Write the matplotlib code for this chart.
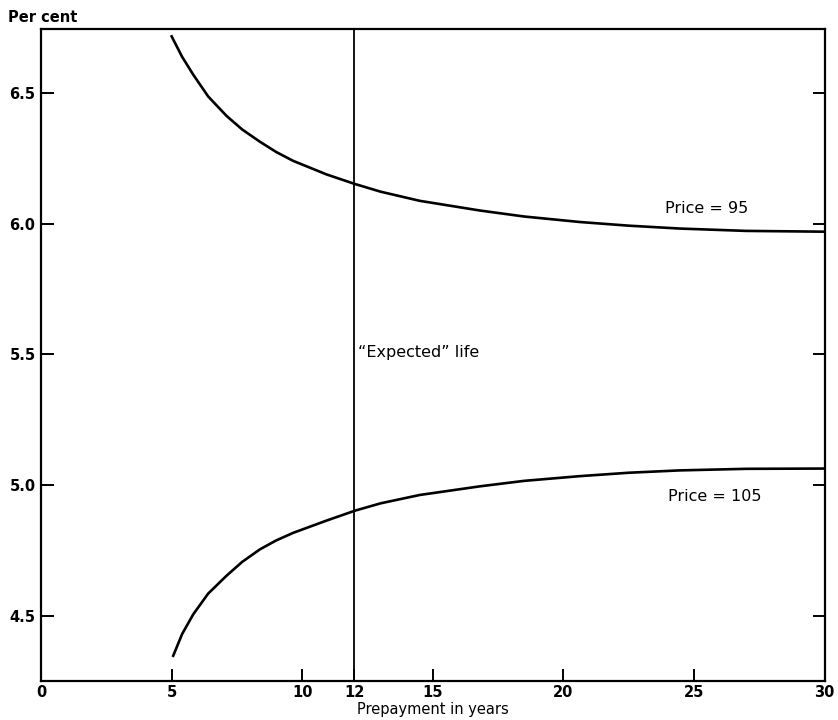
import matplotlib
matplotlib.use("Agg")
import matplotlib.pyplot as plt

# yield curves
years_95 = [5.0, 5.4, 5.83, 6.4, 7.1, 7.7, 8.38, 9.0, 9.65, 10.93, 12.0, 13.0, 14.5, 16.8, 18.5, 20.63, 22.5, 24.45, 27.0, 30.0]
yield_95 = [6.716, 6.638, 6.569, 6.486, 6.412, 6.36, 6.313, 6.274, 6.240, 6.188, 6.152, 6.122, 6.087, 6.050, 6.027, 6.006, 5.992, 5.981, 5.972, 5.969]

years_105 = [5.06, 5.4, 5.83, 6.4, 7.1, 7.7, 8.38, 9.0, 9.65, 10.93, 12.02, 13.0, 14.5, 16.8, 18.5, 20.63, 22.5, 24.45, 27.0, 30.0]
yield_105 = [4.347, 4.43, 4.506, 4.585, 4.653, 4.706, 4.754, 4.788, 4.817, 4.864, 4.902, 4.930, 4.962, 4.995, 5.016, 5.034, 5.047, 5.056, 5.062, 5.063]

expected_life = 12
xticks = [0, 5, 10, 12, 15, 20, 25, 30]
yticks = [4.5, 5.0, 5.5, 6.0, 6.5]
ytick_labels = ["4.5", "5.0", "5.5", "6.0", "6.5"]

plt.rcParams['font.family'] = ['DejaVu Sans']

fig = plt.figure(figsize=(8.38, 7.2), dpi=100)
ax = fig.add_axes([0.049, 0.054, 0.935, 0.906])

ax.plot(years_95, yield_95, color="black", lw=1.9, solid_joinstyle="round")
ax.plot(years_105, yield_105, color="black", lw=1.9, solid_joinstyle="round")
ax.axvline(expected_life, color="black", lw=1.3)

ax.set_xlim(0, 30)
ax.set_ylim(4.25, 6.745)

ax.set_xticks(xticks)
ax.set_xticklabels([str(t) for t in xticks])
ax.set_yticks(yticks)
ax.set_yticklabels(ytick_labels)
ax.tick_params(axis="both", direction="in", length=9, width=1.4, labelsize=10.5, pad=4)
ax.tick_params(axis="y", right=True)
ax.tick_params(axis="x", pad=3)
for lbl in ax.get_xticklabels() + ax.get_yticklabels():
  lbl.set_fontweight("bold")
for s in ax.spines.values():
  s.set_linewidth(1.6)

ax.text(23.9, 6.03, "Price = 95", fontsize=11.5, va="bottom", ha="left")
ax.text(24.0, 4.985, "Price = 105", fontsize=11.5, va="top", ha="left")
ax.text(12.15, 5.505, "\u201cExpected\u201d life", fontsize=11.5, va="center", ha="left")

fig.text(0.009, 0.975, "Per cent", fontsize=10.5, weight="bold", va="center", ha="left")
ax.set_xlabel("Prepayment in years", fontsize=10.5, labelpad=1)

fig.savefig("out.png", dpi=100)
